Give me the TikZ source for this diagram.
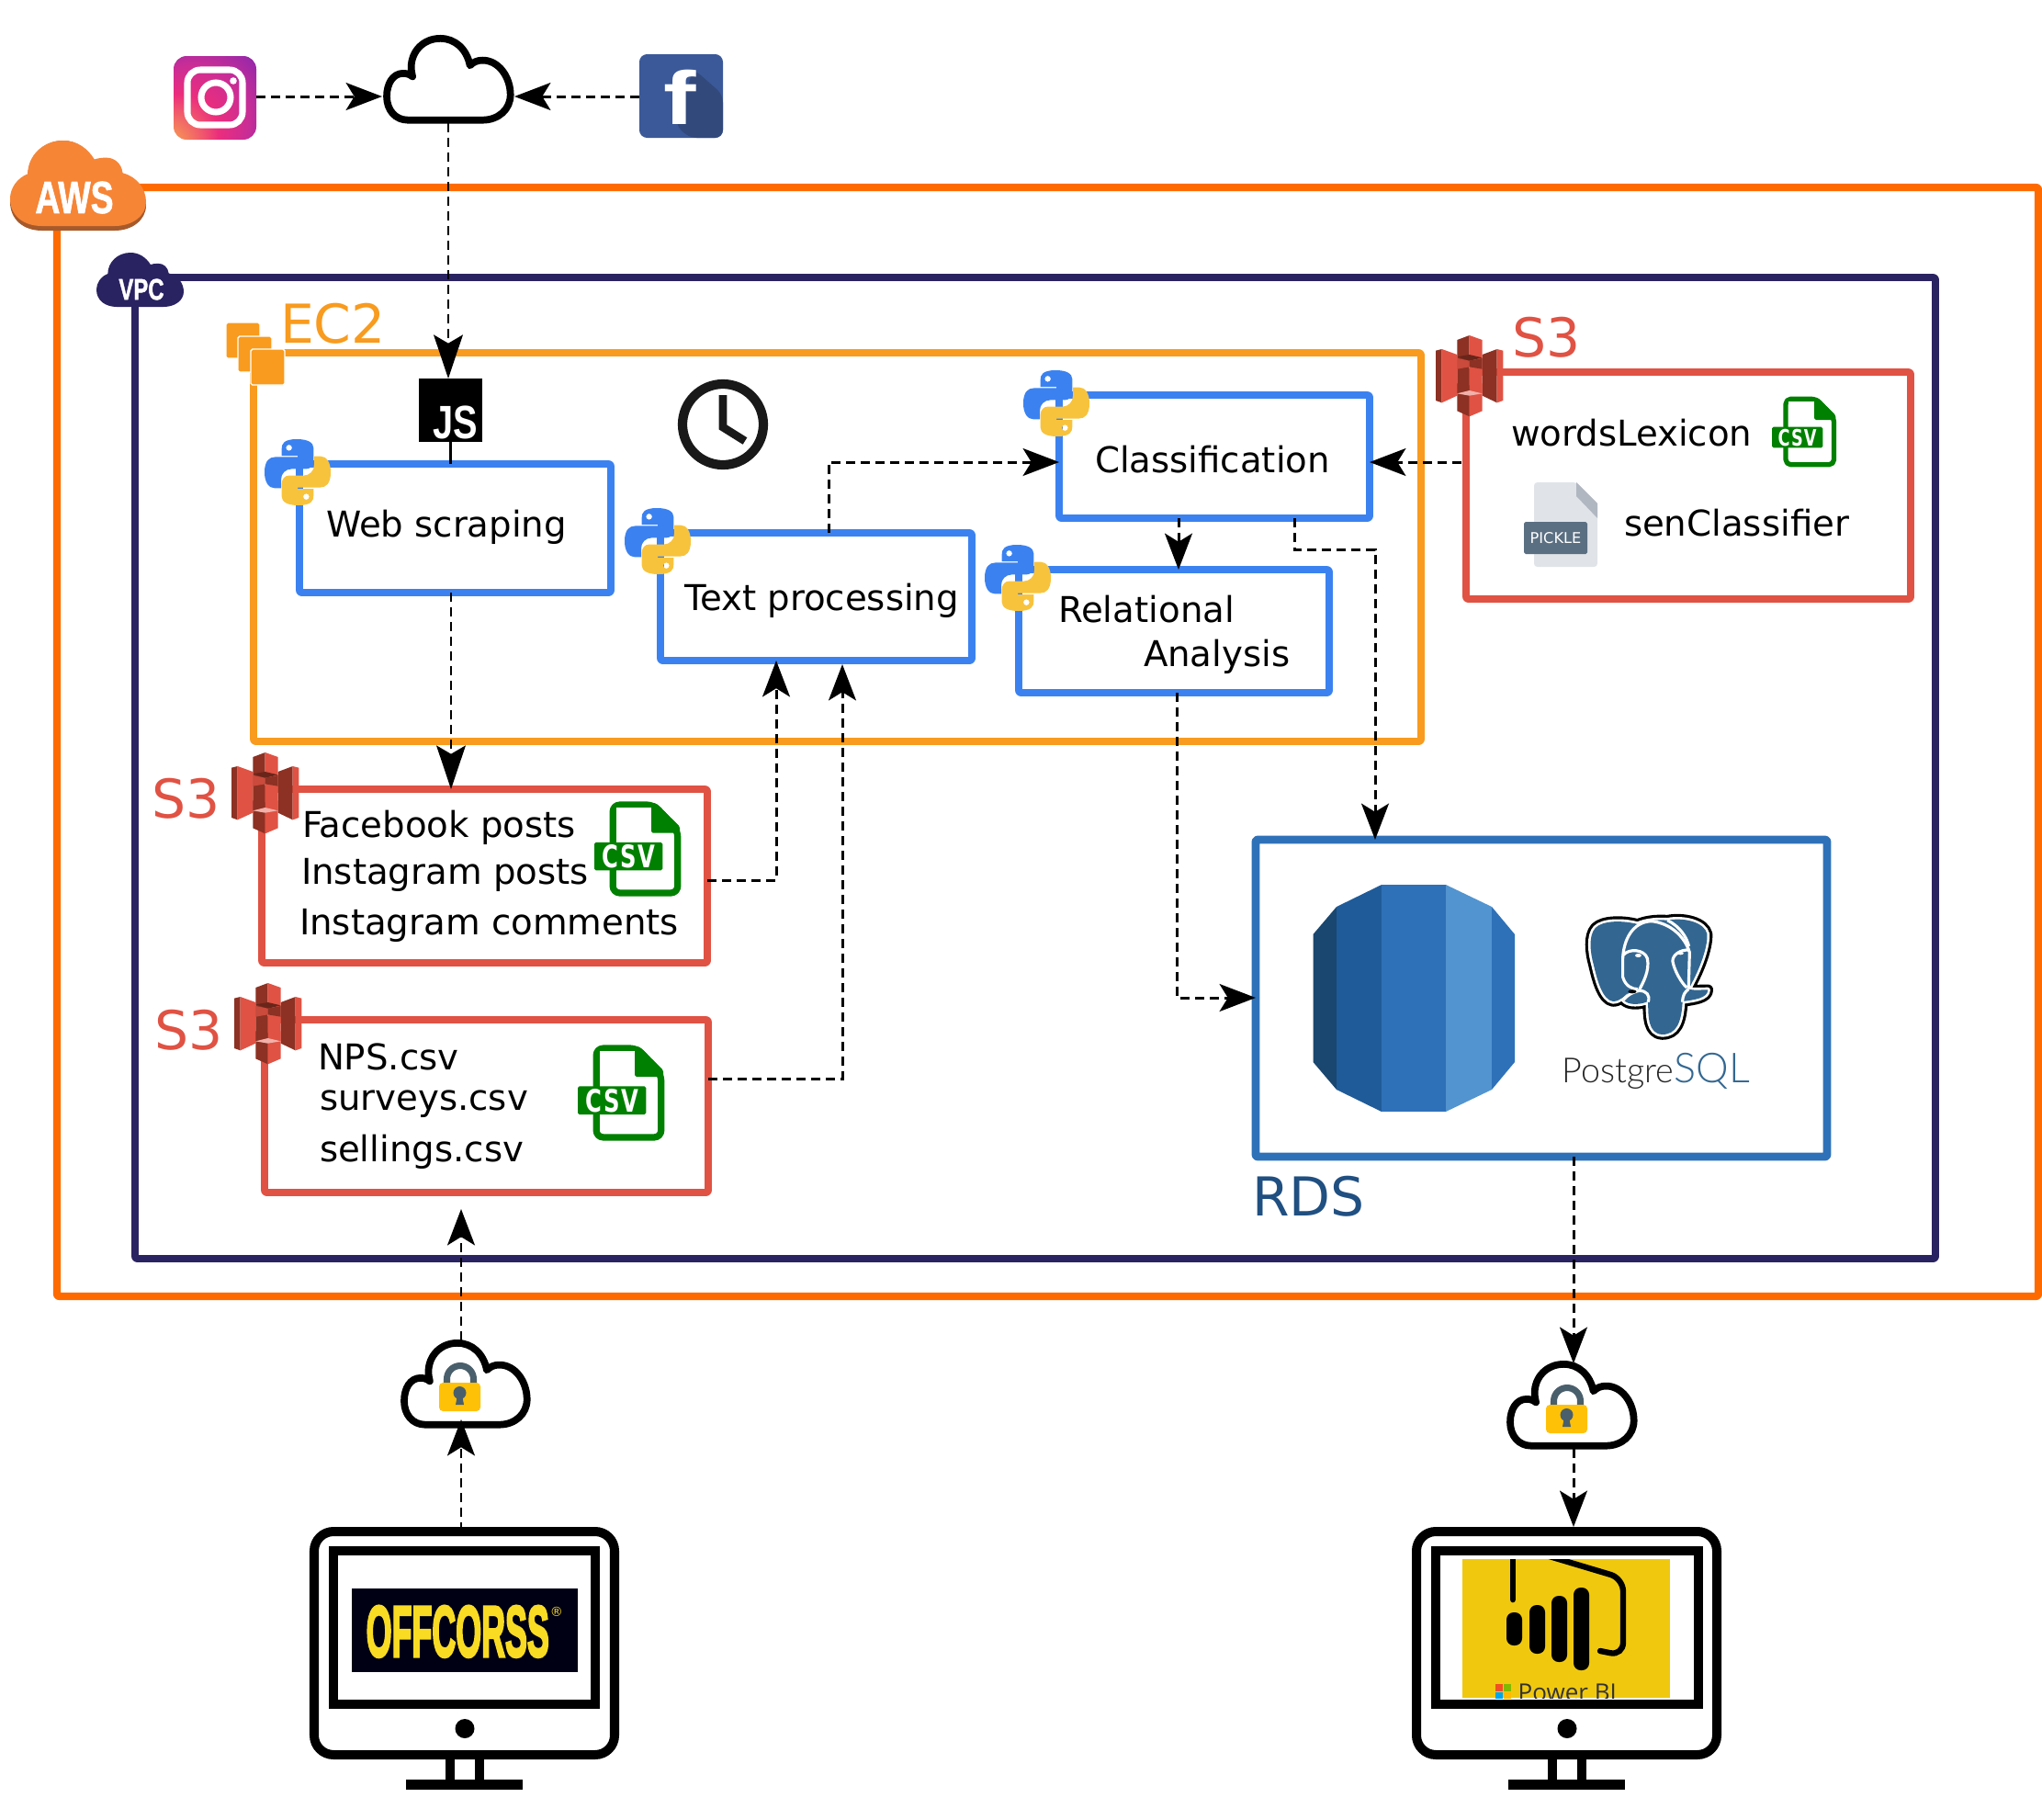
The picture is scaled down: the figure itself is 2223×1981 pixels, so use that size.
\documentclass[tikz,border=0pt]{standalone}
\usepackage{fontspec}
\usepackage{graphicx}
\setmainfont{DejaVu Sans}
\newfontfamily\libs{Liberation Sans}
\newfontfamily\libf[BoldFeatures={FakeBold=1.5}]{Liberation Sans}
\newfontfamily\offf[BoldFeatures={FakeBold=4}]{Liberation Sans}
\newfontfamily\osans{Open Sans}
\newfontfamily\pglight{Lato Light}
\usetikzlibrary{arrows.meta,calc}
\definecolor{cAws}{HTML}{FF6A00}
\definecolor{cAwsC}{HTML}{F68536}
\definecolor{cAwsD}{HTML}{A65A2B}
\definecolor{cVpc}{HTML}{2A2361}
\definecolor{cEc}{HTML}{F89B1E}
\definecolor{cBlue}{HTML}{3B82F0}
\definecolor{cYel}{HTML}{F8C33C}
\definecolor{cS}{HTML}{E05243}
\definecolor{cSd}{HTML}{8C3123}
\definecolor{cRds}{HTML}{2E71B8}
\definecolor{cCsv}{HTML}{008000}
\definecolor{cPg}{HTML}{336791}
\definecolor{cLock}{HTML}{4A5F6C}
\definecolor{cPk}{HTML}{E0E4E8}
\definecolor{cPkF}{HTML}{B0B7C0}
\definecolor{igA}{HTML}{FADC32}
\definecolor{igB}{HTML}{F5875A}
\definecolor{igC}{HTML}{EB2D7D}
\definecolor{igD}{HTML}{C82D96}
\definecolor{igE}{HTML}{9628AA}
\def\U{0.01cm}
\tikzset{
  frame/.style={rectangle,draw,inner sep=0pt,outer sep=0pt,rounded corners=0.6pt,line join=round},
  ghost/.style={rectangle,inner sep=0pt,outer sep=0pt},
  txt/.style={anchor=base west,inner sep=0pt,outer sep=0pt,font=\fontsize{11}{13}\selectfont},
  big/.style={anchor=base west,inner sep=0pt,outer sep=0pt,font=\fontsize{16.6}{19}\selectfont},
  conn/.style={draw=black,line width=0.85pt,dash pattern=on 2.85pt off 1.7pt,
    -{Stealth[length=11.2pt,width=8.5pt,inset=2.6pt]}},
  connlong/.style={conn,-{Stealth[length=13.5pt,width=9pt,inset=2.6pt]}},
  mon/.style={frame,draw=black,line width=2.85pt,rounded corners=6pt,fill=white},
}
% frame node: style, name, x1,y1,x2,y2
\newcommand\fr[6]{\node[#1,minimum width={(#5-#3)*\U},minimum height={(#6-#4)*\U}] (#2) at ({(#3+#5)/2},{(#4+#6)/2}) {};}
% line-art cloud
\newcommand\cloudLine[4]{%
\begin{scope}[shift={(#1,#2)},xscale={(#3-#1)/100},yscale={(#4-#2)/100}]
\draw[line width=2.2pt,fill=white,line join=round] (19.4,96.5) -- (76,96.5) .. controls (88,96.5) and (97,84) .. (97,67.7) .. controls (97,47) and (88,28) .. (76,28) .. controls (72,28) and (69,30) .. (66.4,34) .. controls (64,15) and (55,3) .. (44,3) .. controls (31,3) and (22,18) .. (22,36) .. controls (22,39) and (22.3,43) .. (23,46.7) .. controls (21,44) and (18,43) .. (16,43) .. controls (8,43) and (3.5,55) .. (3.5,69.5) .. controls (3.5,85) and (10,96.5) .. (19.4,96.5) -- cycle;
\end{scope}}
% solid cloud
\newcommand\cloudSolid[5]{%
\begin{scope}[shift={(#1,#2)},xscale={(#3-#1)/100},yscale={(#4-#2)/100}]
\fill[#5] (23.4,100) -- (76.9,100) .. controls (90,100) and (100,88) .. (100,72) .. controls (100,56) and (93,42) .. (82.8,38) .. controls (82,27) and (77,20) .. (70.7,20) .. controls (67,20) and (64,21) .. (62,22) .. controls (57,9) and (49,0) .. (39,0) .. controls (24,0) and (13,18) .. (13,39) .. controls (5,44) and (0,56) .. (0,68) .. controls (0,88) and (10,100) .. (23.4,100) -- cycle;
\end{scope}}
% S3 bucket icon
\newcommand\sThree[2]{%
\begin{scope}[shift={(#1,#2)},xscale=0.3333,yscale=0.3333,shift={(-70,-75)}]
\fill[cSd] (70,125)--(90,120)--(90,295)--(70,288)--cycle;
\fill[cS] (90,120)--(140,138)--(140,272)--(90,295)--cycle;
\fill[cSd] (222,138)--(270,120)--(270,295)--(222,272)--cycle;
\fill[cS] (270,120)--(290,125)--(290,288)--(270,295)--cycle;
\fill[cSd] (140,90)--(180,75)--(180,178)--(180,340)--(140,322)--cycle;
\fill[cS] (180,75)--(222,90)--(222,322)--(180,340)--cycle;
\fill[cS!90!black] (140,150)--(180,158)--(180,178)--(140,185)--cycle;
\fill[cSd] (222,150)--(180,158)--(180,178)--(222,185)--cycle;
\fill[cSd!75!black] (140,145)--(180,138)--(222,148)--(180,158)--cycle;
\fill[cS] (180,238)--(222,232)--(222,265)--(180,272)--cycle;
\fill[cSd] (180,238)--(140,232)--(140,265)--(180,272)--cycle;
\fill[cS!45!white] (140,265)--(180,255)--(222,265)--(180,272)--cycle;
\end{scope}}
% CSV icon: x,y,w,h,font size
\newcommand\csvIcon[5]{%
\begin{scope}[shift={(#1,#2)},xscale={#3/100},yscale={#4/100}]
\draw[cCsv,line width=#5*0.215pt,line join=round,rounded corners=#5*0.22pt,fill=white] (21.5,50)--(21.5,97)--(96.5,97)--(96.5,30)--(69,3)--(21.5,3)--cycle;
\fill[cCsv,rounded corners=0.5pt] (66,1) -- (71,1) -- (99,26) -- (99,33) -- (66,33) -- cycle;
\fill[white] (21.5,3) ++(3.5,3) -- (66,6) -- (66,33) -- (25,33) -- cycle;
\fill[cCsv,rounded corners=0.5pt] (0,43) rectangle (79,73);
\node[inner sep=0pt,text=white] at (39.5,58) {\scalebox{0.72}[1]{\fontsize{#5}{#5}\selectfont\bfseries\addfontfeature{LetterSpace=6}CSV}};
\end{scope}}
% python logo
\newcommand\pyIcon[2]{%
\begin{scope}[shift={(#1,#2)},xscale=0.72,yscale=0.72]
\fill[cBlue,even odd rule] (49,0) .. controls (28,0) and (26,8) .. (26,14) -- (26,25) -- (50,25) -- (50,27) -- (16,27) .. controls (7,27) and (0,33) .. (0,50) .. controls (0,66) and (7,74) .. (15,74) -- (25,74) -- (25,61) .. controls (25,52) and (32,45) .. (41,45) -- (63,45) .. controls (69,45) and (74,40) .. (74,33) -- (74,13) .. controls (74,5) and (65,0) .. (49,0) -- cycle (37,13) circle [radius=4.6];
\fill[cYel,even odd rule] (51,100) .. controls (72,100) and (74,92) .. (74,86) -- (74,75) -- (50,75) -- (50,73) -- (84,73) .. controls (93,73) and (100,67) .. (100,50) .. controls (100,34) and (93,26) .. (85,26) -- (75,26) -- (75,39) .. controls (75,48) and (68,55) .. (59,55) -- (37,55) .. controls (31,55) and (26,60) .. (26,67) -- (26,87) .. controls (26,95) and (35,100) .. (51,100) -- cycle (63,87) circle [radius=4.6];
\end{scope}}
% lock
\newcommand\lockIcon[2]{%
\begin{scope}[shift={(#1,#2)}]
\draw[cLock,line width=2pt] (8.5,2)--(8.5,-4) arc[start angle=180,end angle=360,radius=14.5] --(37.5,2);
\fill[color={rgb,255:red,255;green,193;blue,7},rounded corners=1.2pt] (0,0) rectangle (45,31);
\fill[cLock] (22.5,11) circle[radius=7];
\fill[cLock] (20,13)--(25,13)--(27,24)--(18,24)--cycle;
\end{scope}}
\pgfdeclareradialshading{instashade}{\pgfpoint{-42bp}{-42bp}}{
 color(0bp)=(igA);
 color(5bp)=(igA);
 color(13bp)=(igB);
 color(24bp)=(igC);
 color(34bp)=(igD);
 color(42bp)=(igE);
 color(50bp)=(igE)}
\begin{document}
\begin{tikzpicture}[x=0.01cm,y=-0.01cm]
\useasboundingbox (0,0) rectangle (2223,1981);
% large frames
\fr{frame,draw=cAws,line width=2.3pt}{aws}{62}{204}{2219}{1411}
\fr{frame,draw=cVpc,line width=2.2pt}{vpc}{147}{302}{2107}{1370}
\fr{frame,draw=cEc,line width=2.2pt}{ec2}{276}{384}{1547}{807}
\fr{frame,draw=cBlue,line width=2.2pt}{web}{326}{505}{665}{645}
\fr{frame,draw=cBlue,line width=2.2pt}{tp}{719}{580}{1058}{719}
\fr{frame,draw=cBlue,line width=2.2pt}{class}{1153}{430}{1491}{564}
\fr{frame,draw=cBlue,line width=2.2pt}{rel}{1109}{620}{1447}{754}
\fr{frame,draw=cS,line width=2.2pt}{sw}{1596}{405}{2080}{652}
\fr{frame,draw=cS,line width=2.2pt}{sf}{285}{859}{770}{1048}
\fr{frame,draw=cS,line width=2.2pt}{sn}{288}{1110}{771}{1298}
\fr{frame,draw=cRds,line width=2.5pt}{rds}{1367}{914}{1989}{1259}
% AWS / VPC / EC2 icons and names
\cloudSolid{11}{153}{159}{251}{cAwsD}
\cloudSolid{11}{153}{159}{246}{cAwsC}
\node[inner sep=0pt,text=white] (awstxt) at (81,215) {\scalebox{0.76}[1]{\libf\fontsize{14}{14}\selectfont\bfseries AWS}};
\cloudSolid{105}{275}{200}{334}{cVpc}
\node[inner sep=0pt,text=white] (vpctxt) at (154,315) {\scalebox{0.74}[1]{\libf\fontsize{9.2}{9}\selectfont\bfseries VPC}};
\foreach \xa/\ya in {246/351,259/366,273/380}{
  \fill[cEc,rounded corners=0.5pt,draw=white,line width=0.4pt] (\xa,\ya) rectangle ++(37,39);}
\node[big,text=cEc] (ec2lbl) at (305,373) {EC2};
\sThree{1563}{365}
\node[big,text=cS] (s3a) at (1646,388) {S3};
\sThree{252}{819}
\node[big,text=cS] (s3b) at (165,890) {S3};
\sThree{255}{1070}
\node[big,text=cS] (s3c) at (168,1142) {S3};
\node[big,text=cRds!70!black] (rdslbl) at (1363,1323) {RDS};
% box texts
\node[txt] (t1) at (355,584) {Web scraping};
\node[txt] (t2) at (745,664) {Text processing};
\node[txt] (t3) at (1192,514) {Classification};
\node[txt] (t4a) at (1152,677) {Relational};
\node[txt] (t4b) at (1245,725) {Analysis};
\node[txt] (t5) at (1645,485) {wordsLexicon};
\node[txt] (t6) at (1768,583) {senClassifier};
\node[txt] (t7) at (329,911) {Facebook posts};
\node[txt] (t8) at (328,962) {Instagram posts};
\node[txt] (t9) at (326,1017) {Instagram comments};
\node[txt] (t10) at (346,1164) {NPS.csv};
\node[txt] (t11) at (348,1208) {surveys.csv};
\node[txt] (t12) at (348,1264) {sellings.csv};
% file icons
\csvIcon{647}{873}{94}{102}{9.6}
\csvIcon{629}{1138}{94}{103}{9.6}
\csvIcon{1929}{432}{70}{76}{7}
\fill[cPk,rounded corners=1pt] (1670,525) -- (1716,525) -- (1739,548) -- (1739,617) -- (1670,617) -- cycle;
\fill[cPkF] (1716,525) -- (1739,548) -- (1739,564) -- (1716,540) -- cycle;
\fill[color={rgb,255:red,91;green,111;blue,130},rounded corners=0.5pt] (1659,568) rectangle (1728,603);
\node[inner sep=0pt,text=white] (pk) at (1693.5,585.5) {\fontsize{4.6}{5}\selectfont PICKLE};
% python logos
\pyIcon{288}{478}
\pyIcon{680}{553}
\pyIcon{1114}{403}
\pyIcon{1072}{593}
% JS
\fr{ghost,fill=black}{js}{456}{412}{525}{481}
\node[inner sep=0pt,text=white,anchor=base east] (jstxt) at (521,477) {\scalebox{0.78}[1]{\libs\fontsize{14.5}{14}\selectfont\bfseries JS}};
% clock
\node[ghost,circle,draw=black!90,line width=2.9pt,minimum size={88*\U}] (clock) at (787,462) {};
\draw[black!90,line width=2.5pt,line join=miter] (787,430) -- (787,465) -- (811,480);
% top cloud and sources
\fr{ghost}{cloudT}{416}{39}{560}{134}
\cloudLine{416}{39}{560}{134}
\fr{ghost}{insta}{189}{61}{279}{152}
\shade[shading=instashade,rounded corners=4pt] (189,61) rectangle (279,152);
\draw[white,line width=2pt,rounded corners=4pt] (204,76) rectangle (264,136);
\draw[white,line width=2pt] (235,106) circle[radius=16];
\fill[white] (254,88) circle[radius=3.8];
\fr{ghost}{fb}{696}{59}{787}{150}
\fill[color={rgb,255:red,59;green,89;blue,152},rounded corners=2.4pt] (696,59) rectangle (787,150);
\fill[color={rgb,255:red,50;green,73;blue,124},rounded corners=2.4pt] (755,75) -- (787,103) -- (787,150) -- (750,150) -- (735,135) -- cycle;
\node[inner sep=0pt,anchor=base west,text=white] (ftxt) at (722,135) {\scalebox{1.3}[1]{\libs\fontsize{23.3}{23}\selectfont\bfseries f}};
% RDS icon
\fill[color={rgb,255:red,26;green,71;blue,111}] (1429.5,1017)--(1455,987)--(1455,1186)--(1429.5,1156)--cycle;
\fill[color={rgb,255:red,32;green,91;blue,153}] (1455,987)--(1504,963)--(1504,1210)--(1455,1186)--cycle;
\fill[cRds] (1504,963) rectangle (1574,1210);
\fill[color={rgb,255:red,82;green,148;blue,207}] (1574,963)--(1624,987)--(1624,1186)--(1574,1210)--cycle;
\fill[cRds] (1624,987)--(1649,1017)--(1649,1156)--(1624,1186)--cycle;
% PostgreSQL elephant
\begin{scope}[shift={(1400,880)},xscale=0.3827,yscale=0.3333]
\def\elephant{(1000,378) .. controls (960,365) and (900,365) .. (880,390) .. controls (860,415) and (865,470) .. (875,510) .. controls (885,560) and (900,625) .. (930,630) .. controls (950,630) and (965,610) .. (975,600) -- (960,625) .. controls (975,645) and (1010,640) .. (1030,630) .. controls (1030,680) and (1030,735) .. (1070,738) .. controls (1110,738) and (1125,700) .. (1128,630) .. controls (1160,625) and (1200,620) .. (1200,592) .. controls (1180,592) and (1160,595) .. (1145,590) .. controls (1170,540) and (1200,460) .. (1198,410) .. controls (1190,370) and (1130,355) .. (1085,365) .. controls (1050,362) and (1020,368) .. (1000,378) -- cycle}
\draw[black,line width=3.3pt,line join=round] \elephant;
\draw[white,line width=1.5pt,line join=round] \elephant;
\fill[cPg] \elephant;
\draw[white,line width=0.9pt] (1040,368) .. controls (985,370) and (960,430) .. (958,490) -- (958,550) .. controls (965,580) and (985,590) .. (1000,590);
\draw[white,line width=0.9pt] (958,480) .. controls (975,455) and (1020,460) .. (1028,490) .. controls (1035,530) and (1015,570) .. (1005,592);
\draw[white,line width=0.9pt] (1040,368) .. controls (1095,375) and (1135,420) .. (1148,470) -- (1145,590);
\draw[white,line width=0.9pt] (1148,462) .. controls (1120,460) and (1098,480) .. (1100,500) .. controls (1105,530) and (1125,570) .. (1140,585);
\draw[white,line width=0.9pt] (1085,365) .. controls (1120,385) and (1140,420) .. (1146,450);
\draw[white,line width=0.9pt] (1030,632) .. controls (1037,610) and (1025,595) .. (1005,595) .. controls (985,600) and (970,610) .. (960,625);
\draw[white,line width=0.9pt] (1128,632) .. controls (1128,610) and (1135,598) .. (1145,590);
\fill[white] (1002,480) ellipse[x radius=9,y radius=6];
\fill[white] (1122,473) ellipse[x radius=9,y radius=5];
\fill[black] (985,598) ellipse[x radius=12,y radius=6];
\end{scope}
\node[inner sep=0pt,anchor=base west] (pgtxt) at (1700,1178) {\fontsize{10.7}{12}\pglight\selectfont\textcolor{black!85}{Postgre}\textcolor{cPg}{\fontsize{12.8}{12}\selectfont SQL}};
% monitors
\fr{mon}{mon1}{342}{1667}{669}{1910}
\fr{ghost,draw=black,line width=2.85pt,fill=white}{scr1}{363}{1688}{648}{1855}
\fill (506,1881.5) circle[radius=10.5];
\fill (485,1915) rectangle (495,1937);
\fill (517,1915) rectangle (527,1937);
\fill (442,1937) rectangle (569,1948);
\fr{ghost,fill=black!92!blue}{ologo}{383}{1729}{629}{1820}
\node[inner sep=0pt,anchor=base west,text={rgb,255:red,250;green,219;blue,36}] (otxt) at (398,1803) {\scalebox{0.455}[1]{\offf\fontsize{22.4}{22}\selectfont\bfseries OFFCORSS}};
\node[inner sep=0pt,text={rgb,255:red,250;green,219;blue,36}] (oreg) at (606,1754) {\fontsize{4}{4}\selectfont ®};
\fr{mon}{mon2}{1542}{1667}{1869}{1910}
\fr{ghost,draw=black,line width=2.85pt,fill=white}{scr2}{1563}{1688}{1849}{1855}
\fill (1706,1881.5) circle[radius=10.5];
\fill (1685,1915) rectangle (1695,1937);
\fill (1717,1915) rectangle (1727,1937);
\fill (1642,1937) rectangle (1769,1948);
\begin{scope}
\clip (1592,1697) rectangle (1818,1848);
\fill[color={rgb,255:red,240;green,201;blue,15}] (1592,1697) rectangle (1818,1848);
\foreach \xa/\ya/\yb in {1640/1755/1791,1665/1747/1800,1689/1737/1809,1713/1728/1818}{
  \fill[rounded corners=2.2pt] (\xa,\ya) rectangle ++(17,\yb-\ya);}
\draw[line width=1.9pt,line cap=round] (1647,1690) -- (1647,1741);
\draw[line width=1.8pt,line cap=round,rounded corners=4pt] (1680,1692) -- (1767,1718) -- (1767,1802) -- (1742,1797);
\fill[color={rgb,255:red,242;green,80;blue,34}] (1628,1833) rectangle (1636,1841);
\fill[color={rgb,255:red,127;green,186;blue,0}] (1637,1833) rectangle (1645,1841);
\fill[color={rgb,255:red,0;green,164;blue,239}] (1628,1842) rectangle (1636,1850);
\fill[color={rgb,255:red,255;green,185;blue,0}] (1637,1842) rectangle (1645,1850);
\node[inner sep=0pt,anchor=base west,text=black!80] (pbi) at (1652,1851) {\osans\fontsize{7.4}{8}\selectfont Power BI};
\end{scope}
\draw[line width=2.85pt] (1563,1855) -- (1849,1855);
% lock clouds
\fr{ghost}{lc1}{435}{1459}{578}{1554}
\cloudLine{435}{1459}{578}{1554}
\lockIcon{478}{1505}
\fr{ghost}{lc2}{1639}{1482}{1783}{1577}
\cloudLine{1639}{1482}{1783}{1577}
\lockIcon{1683}{1529}
% guides
\coordinate (gtop) at (0,105);
\coordinate (gweb) at (491,0);
\coordinate (gclsr) at (1283,0);
\coordinate (gtp) at (902,0);
\coordinate (gy) at (0,503);
\coordinate (sfree) at (1591,503);
\coordinate (gcl2) at (1409,0);
\coordinate (gy2) at (0,598);
\coordinate (grds) at (1497,0);
\coordinate (grel) at (1281,0);
\coordinate (gy3) at (0,1086);
\coordinate (gsf) at (845,0);
\coordinate (gy4) at (0,958);
\coordinate (gsn) at (917,0);
\coordinate (gy5) at (0,1174);
\coordinate (gy6) at (0,723);
\coordinate (gl1) at (502,0);
\coordinate (gy7) at (0,1316);
\coordinate (gy8) at (0,1545);
\coordinate (gl2) at (1713,0);
\coordinate (gy9) at (0,1484);
\coordinate (gy10) at (0,1662);
% connectors
\draw[conn] (gtop -| insta.east) -- (gtop -| cloudT.west);
\draw[conn] (gtop -| fb.west) -- (gtop -| cloudT.east);
\draw[connlong] (cloudT.south) -- (cloudT.south |- js.north);
\draw[line width=0.85pt] (js.south) -- (js.south |- web.north);
\draw[connlong] (gweb |- web.south) -- (gweb |- sf.north);
\draw[conn] (gtp |- tp.north) -- (gtp |- gy) -- (gy -| class.west);
\draw[conn] (sfree) -- (sfree -| class.east);
\draw[conn] (gclsr |- class.south) -- (gclsr |- rel.north);
\draw[conn] (gcl2 |- class.south) -- (gcl2 |- gy2) -- (grds |- gy2) -- (grds |- rds.north);
\draw[conn] (grel |- rel.south) -- (grel |- gy3) -- (gy3 -| rds.west);
\draw[conn] (gy4 -| sf.east) -- (gy4 -| gsf) -- (gsf |- tp.south);
\draw[conn] (gy5 -| sn.east) -- (gy5 -| gsn) -- (gsn |- gy6);
\draw[conn] (gl1 |- lc1.north) -- (gl1 |- gy7);
\draw[conn] (gl1 |- mon1.north) -- (gl1 |- gy8);
\draw[conn] (gl2 |- rds.south) -- (gl2 |- gy9);
\draw[conn] (gl2 |- lc2.south) -- (gl2 |- gy10);
\end{tikzpicture}
\end{document}
